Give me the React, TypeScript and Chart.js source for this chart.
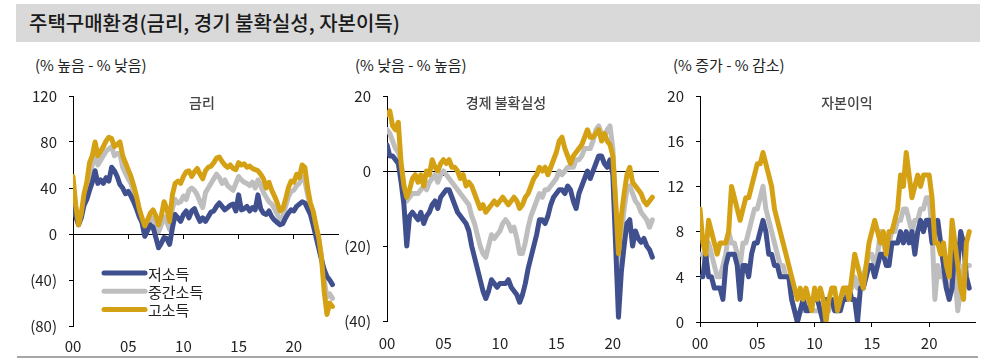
import React, { useEffect, useRef } from 'react';
import { Chart, registerables } from 'chart.js';

Chart.register(...registerables);

// ---------- data ----------
const START_YEAR = 2000;
const STEP = 0.25; // quarterly observations

const yearTicks = [2000, 2005, 2010, 2015, 2020];
const yearLabels = ['00', '05', '10', '15', '20'];

const seriesNames = ['저소득', '중간소득', '고소득'];

// 금리 (% 높음 - % 낮음)
const rateLow = [
  25, 15, 8, 14, 25, 30, 38, 45,
  55, 44, 47, 44, 49, 46, 58, 55,
  50, 43, 40, 35, 37, 33, 28, 22,
  15, 10, -2, 3, 8, 6, -3, -12,
  -8, -3, -4, -9, 5, 17, 14, 11,
  17, 20, 14, 20, 22, 16, 11, 14,
  11, 15, 19, 20, 24, 27, 24, 21,
  23, 25, 26, 20, 34, 21, 22, 24,
  20, 23, 21, 34, 22, 18, 17, 20,
  15, 12, 10, 8, 9, 14, 18, 21,
  20, 24, 26, 28, 27, 22, 17, 8,
  -2, -12, -22, -31, -37, -40, -44,
];
const rateMid = [
  37, 18, 8, 16, 30, 38, 52, 60,
  70, 60, 64, 68, 72, 74, 76, 68,
  70, 70, 58, 53, 48, 44, 36, 28,
  18, 10, 0, 6, 12, 14, 9, 2,
  8, 15, 10, 4, 22, 30, 27, 28,
  33, 30, 38, 40, 38, 34, 28, 23,
  36, 40, 44, 48, 52, 49, 44, 47,
  42, 40, 38, 44, 50, 47, 45, 44,
  42, 45, 40, 47, 42, 36, 32, 28,
  26, 22, 17, 13, 15, 24, 32, 37,
  38, 42, 44, 50, 46, 34, 24, 14,
  6, -5, -20, -40, -55, -52, -56,
];
const rateHigh = [
  50, 25, 8, 18, 35, 45, 62, 68,
  80, 68, 72, 76, 81, 84, 83, 76,
  78, 80, 68, 62, 56, 50, 42, 33,
  22, 14, 7, 12, 18, 21, 16, 8,
  16, 28, 22, 11, 34, 44, 46, 44,
  50, 54, 55, 50, 54, 57, 52, 48,
  55, 58, 59, 62, 66, 67, 63, 60,
  58, 60, 57, 56, 62, 60, 61, 58,
  59, 57, 56, 55, 52, 48, 40, 45,
  38, 33, 27, 20, 22, 30, 40, 46,
  45, 52, 49, 60, 58, 40, 27, 20,
  8, -3, -20, -50, -70, -60, -63,
];

// 경제 불확실성 (% 낮음 - % 높음)
const uncLow = [
  7, 4, 4, 3, 2, -3, -9, -20,
  -12, -11, -12, -13, -11, -14, -12, -11,
  -9, -8, -10, -7, -6, -5, -5, -7,
  -9, -11, -12, -13, -14, -16, -20, -23,
  -26, -29, -32, -34, -32, -29, -30, -31,
  -30, -30, -30, -29, -31, -32, -33, -35,
  -33, -30, -26, -23, -20, -17, -13, -13,
  -14, -12, -9, -7, -6, -5, -5, -6,
  -4, -5, -8, -10, -6, -4, -2, 0,
  -2, 0, 2, 4, 4, 2, 1, 3,
  -1, -20, -39, -27, -20, -14, -13, -20,
  -16, -18, -19, -18, -20, -21, -23,
];
const uncMid = [
  11, 10, 8, 6, 5, 2, -4, -8,
  -7, -6, -6, -6, -5, -4, -5, -3,
  -2, -1, -3, -1, 0, -1, -2, -3,
  -4, -5, -6, -7, -8, -9, -12, -14,
  -17, -20, -22, -23, -20, -17, -18, -17,
  -16, -14, -13, -14, -16, -15, -18, -22,
  -22, -19, -15, -12, -10, -8, -6, -7,
  -5, -5, -4, -3, -2, 0, -1, 0,
  1, 1, 1, 3, 3, 4, 6, 6,
  6, 8, 11, 12, 10, 9, 11, 12,
  6, -10, -28, -18, -10, -5, -4, -6,
  -8, -9, -11, -12, -13, -15, -13,
];
const uncHigh = [
  15, 16, 12, 11, 13, 2, -4, -7,
  -5, -2, -1, -3, -1, -4, 0, -1,
  3, 1, 0, 2, 3, 2, 3, 1,
  1, 0, -2, -1, -4, -3, -4, -6,
  -8, -10, -9, -11, -10, -9, -8, -9,
  -8, -7, -8, -9, -8, -7, -8, -10,
  -9, -7, -6, -4, -2, -1, 1, 0,
  1, -1, 1, 3, 5, 8, 9, 6,
  4, 2, 4, 5, 6, 7, 9, 11,
  9, 9, 10, 11, 8, 10, 8, 7,
  4, -8, -22, -12, -6, -1, 1, -3,
  -4, -5, -6, -8, -9, -8, -7,
];

// 자본이익 (% 증가 - % 감소)
const capLow = [
  4, 4, 6, 4, 4, 3, 3, 3,
  2, 5, 6, 6, 6, 5, 2, 5,
  5, 4, 6, 7, 7, 8, 9, 8,
  6, 6, 5, 5, 4, 4, 4, 4,
  2, 1, 0, 1, 2, 1, 1, 2,
  2, 2, 1, 0, 2, 2, 2, 1,
  1, 1, 2, 2, 3, 2, 2, 0,
  3, 3, 4, 5, 5, 4, 5, 6,
  6, 5, 5, 7, 7, 7, 8, 7,
  8, 7, 8, 6, 8, 9, 8, 9,
  9, 7, 8, 9, 7, 5, 3, 2,
  3, 7, 5, 8, 7, 4, 3,
];
const capMid = [
  6, 6, 5, 7, 6, 5, 4, 4,
  5, 6, 8, 7, 7, 6, 5, 7,
  7, 8, 9, 10, 10, 11, 12, 10,
  9, 8, 7, 6, 5, 5, 4, 4,
  2, 1, 0, 1, 1, 2, 2, 1,
  1, 1, 1, 0, 1, 1, 2, 1,
  1, 2, 2, 3, 3, 3, 4, 3,
  4, 4, 5, 6, 6, 5, 6, 8,
  7, 6, 7, 8, 8, 9, 9, 10,
  10, 9, 8, 9, 9, 10, 10, 11,
  11, 8, 2, 5, 4, 4, 3, 2,
  5, 4, 1, 3, 5, 5, 5,
];
const capHigh = [
  10, 7, 6, 9, 8, 7, 6, 7,
  7, 7, 8, 12, 11, 10, 9, 10,
  11, 11, 12, 13, 14, 14, 15, 14,
  13, 12, 10, 9, 8, 7, 6, 5,
  4, 3, 2, 3, 2, 3, 2, 1,
  3, 2, 3, 2, 0, 2, 3, 3,
  1, 2, 3, 3, 2, 4, 6, 5,
  4, 3, 5, 7, 8, 9, 8, 7,
  8, 6, 8, 8, 9, 10, 13, 12,
  15, 13, 11, 12, 13, 12, 13, 13,
  13, 11, 7, 7, 6, 7, 5, 4,
  9, 7, 5, 3, 2, 7, 8,
];

const rateTicks = [-80, -40, 0, 40, 80, 120];
const rateTickLabels = ['(80)', '(40)', '0', '40', '80', '120'];
const uncTicks = [-40, -20, 0, 20];
const uncTickLabels = ['(40)', '(20)', '0', '20'];
const capTicks = [0, 4, 8, 12, 16, 20];
const capTickLabels = ['0', '4', '8', '12', '16', '20'];

// ---------- styles ----------
const BLUE = '#40508e';
const GREY = '#bebebe';
const GOLD = '#d5a114';
const FONT = "'Noto Sans CJK KR', 'Noto Sans', sans-serif";
const seriesColors = [BLUE, GREY, GOLD];

type PanelCfg = {
  left: number; top: number; width: number; height: number;
  padTop: number; padRight: number; yWidth: number; xHeight: number; xPad: number;
  yMin: number; yMax: number; yTicks: number[]; yLabels: string[];
  low: number[]; mid: number[]; high: number[]; legend: boolean;
};

const panels: PanelCfg[] = [
  { left: 20, top: 86, width: 322, height: 272, padTop: 10, padRight: 4, yWidth: 53, xHeight: 32, xPad: 11,
    yMin: -80, yMax: 120, yTicks: rateTicks, yLabels: rateTickLabels, low: rateLow, mid: rateMid, high: rateHigh, legend: true },
  { left: 340, top: 86, width: 322, height: 272, padTop: 10, padRight: 4, yWidth: 47, xHeight: 37, xPad: 13,
    yMin: -40, yMax: 20, yTicks: uncTicks, yLabels: uncTickLabels, low: uncLow, mid: uncMid, high: uncHigh, legend: false },
  { left: 660, top: 86, width: 320, height: 272, padTop: 10, padRight: 5, yWidth: 40, xHeight: 36, xPad: 12,
    yMin: 0, yMax: 20, yTicks: capTicks, yLabels: capTickLabels, low: capLow, mid: capMid, high: capHigh, legend: false },
];

const toPoints = (vals: number[]) => vals.map((v, i) => ({ x: START_YEAR + i * STEP, y: v }));

const legendPlugin = {
  id: 'incomeLegend',
  afterDraw(chart: any) {
    const ctx = chart.ctx;
    ctx.save();
    seriesNames.forEach((name, i) => {
      const y = 187 + i * 18.2;
      ctx.strokeStyle = seriesColors[i];
      ctx.lineWidth = 5;
      ctx.lineCap = 'round';
      ctx.beginPath();
      ctx.moveTo(84, y);
      ctx.lineTo(125, y);
      ctx.stroke();
      ctx.fillStyle = '#222';
      ctx.font = `15px ${FONT}`;
      ctx.textBaseline = 'middle';
      ctx.textAlign = 'left';
      ctx.fillText(name, 128, y + 1);
    });
    ctx.restore();
  },
};

function PanelChart({ p }: { p: PanelCfg }) {
  const ref = useRef<HTMLCanvasElement>(null);
  useEffect(() => {
    const setYearTicks = (s: any) => { s.ticks = yearTicks.map((value) => ({ value })); };
    const chart = new Chart(ref.current as HTMLCanvasElement, {
      type: 'line',
      data: {
        datasets: [
          { label: seriesNames[2], data: toPoints(p.high), borderColor: GOLD, order: 1 },
          { label: seriesNames[0], data: toPoints(p.low), borderColor: BLUE, order: 2 },
          { label: seriesNames[1], data: toPoints(p.mid), borderColor: GREY, order: 3 },
        ] as any,
      },
      options: {
        animation: false,
        responsive: false,
        maintainAspectRatio: false,
        layout: { padding: { top: p.padTop, right: p.padRight, left: 0, bottom: 0 } },
        elements: {
          point: { radius: 0 },
          line: { borderWidth: 5, borderJoinStyle: 'round', borderCapStyle: 'round', tension: 0 },
        },
        plugins: { legend: { display: false }, tooltip: { enabled: false }, title: { display: false } },
        scales: {
          x: {
            type: 'linear', min: 2000, max: 2024, position: 'bottom',
            border: { display: false },
            grid: { display: false, drawTicks: false },
            ticks: {
              padding: p.xPad, color: '#222', font: { size: 15, family: FONT },
              maxRotation: 0,
              callback: (v: any) => { const k = yearTicks.indexOf(Number(v)); return k >= 0 ? yearLabels[k] : ''; },
            },
            afterBuildTicks: setYearTicks,
            afterFit: (s: any) => { s.height = p.xHeight; s.paddingLeft = 0; s.paddingRight = 0; },
          },
          x2: {
            type: 'linear', axis: 'x', min: 2000, max: 2024, position: { y: 0 },
            border: { display: true, color: '#000', width: 1 },
            grid: { drawOnChartArea: false, drawTicks: true, tickLength: 4, color: '#000' },
            ticks: { display: false },
            afterBuildTicks: setYearTicks,
            afterFit: (s: any) => { s.paddingLeft = 0; s.paddingRight = 0; },
          },
          y: {
            type: 'linear', min: p.yMin, max: p.yMax, position: 'left',
            border: { display: true, color: '#000', width: 1 },
            grid: { drawOnChartArea: false, drawTicks: true, tickLength: 4, color: '#000' },
            ticks: {
              padding: 12, color: '#222', font: { size: 15, family: FONT },
              callback: (v: any) => { const k = p.yTicks.indexOf(Number(v)); return k >= 0 ? p.yLabels[k] : ''; },
            },
            afterBuildTicks: (s: any) => { s.ticks = p.yTicks.map((value) => ({ value })); },
            afterFit: (s: any) => { s.width = p.yWidth; s.paddingTop = 0; s.paddingBottom = 0; },
          },
        } as any,
      },
      plugins: p.legend ? [legendPlugin] : [],
    });
    return () => chart.destroy();
  }, [p]);
  return (
    <canvas
      ref={ref}
      width={p.width}
      height={p.height}
      style={{ position: 'absolute', left: p.left, top: p.top, width: p.width, height: p.height }}
    />
  );
}

const subtitle: React.CSSProperties = {
  position: 'absolute', top: 55, fontSize: 15, lineHeight: '20px', color: '#222', whiteSpace: 'nowrap', fontFamily: FONT,
};
const panelTitle: React.CSSProperties = {
  position: 'absolute', top: 92, fontSize: 14, lineHeight: '20px', color: '#444', whiteSpace: 'nowrap',
  transform: 'translateX(-50%)', fontFamily: FONT, fontWeight: 500,
};

export default function App() {
  return (
    <div style={{ position: 'absolute', left: 0, top: 0, width: 1000, height: 362, background: '#fff', fontFamily: FONT, overflow: 'hidden' }}>
      <div style={{ position: 'absolute', left: 16, top: 4, width: 964, height: 38, background: '#d9d9d9' }} />
      <div style={{ position: 'absolute', left: 29, top: 4, height: 38, lineHeight: '38px', fontSize: 20, fontWeight: 500, color: '#1a1a1a', whiteSpace: 'nowrap' }}>
        주택구매환경(금리, 경기 불확실성, 자본이득)
      </div>
      {panels.map((p, i) => <PanelChart key={i} p={p} />)}
      <div style={{ ...subtitle, left: 35 }}>(% 높음 - % 낮음)</div>
      <div style={{ ...subtitle, left: 355 }}>(% 낮음 - % 높음)</div>
      <div style={{ ...subtitle, left: 673 }}>(% 증가 - % 감소)</div>
      <div style={{ ...panelTitle, left: 202 }}>금리</div>
      <div style={{ ...panelTitle, left: 506 }}>경제 불확실성</div>
      <div style={{ ...panelTitle, left: 847 }}>자본이익</div>
      <div style={{ position: 'absolute', left: 17, top: 356, width: 961, height: 2, background: '#a6a6a6' }} />
    </div>
  );
}
